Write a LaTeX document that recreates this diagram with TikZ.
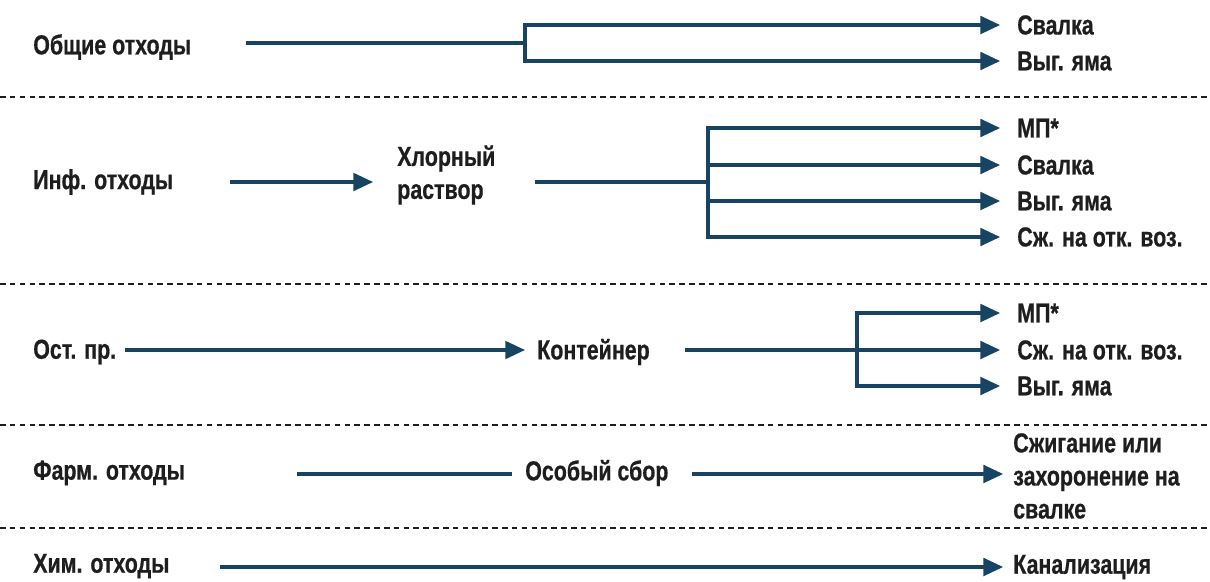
\documentclass[tikz,border=0pt]{standalone}
\usepackage{fontspec}
\setmainfont{Liberation Sans}[FakeStretch=0.78, FakeBold=0.6]
\usetikzlibrary{arrows.meta, positioning}
\definecolor{flowblue}{RGB}{22, 68, 98}
\definecolor{labelgray}{RGB}{30, 30, 30}

\begin{document}
\begin{tikzpicture}[x=0.025cm, y=-0.025cm,
    lbl/.style={anchor=west, inner sep=0pt, align=left, text=labelgray,
        font=\bfseries\fontsize{19.5}{23.5}\selectfont},
    flow/.style={flowblue, line width=2.3pt},
    arr/.style={flow, -{Triangle[length=14pt, width=12.5pt]}},
    sepline/.style={labelgray, line width=0.8pt, dash pattern=on 4pt off 3pt}]
    \useasboundingbox (0,0) rectangle (1210,581);

    % separators
    \foreach \y in {97, 284, 425, 528}
        \draw[sepline] (0,\y) -- (1210,\y);

    % general waste
    \node[lbl] (ob) at (33,47) {Общие отходы};
    \coordinate (obS) at (246,43);
    \coordinate (obJ) at (525,43);
    \node[lbl] (ob1) at (1017,25) {Свалка};
    \node[lbl] (ob2) at (1017,61) {Выг. яма};
    \draw[flow] (obS) -- (obJ);
    \draw[arr, shorten >=12pt] (obJ) |- (ob1.west);
    \draw[arr, shorten >=12pt] (obJ) |- (ob2.west);

    % infectious waste
    \node[lbl] (inf) at (33,182) {Инф. отходы};
    \coordinate (infS) at (230,182);
    \node[lbl] (hl) at (397,175) {Хлорный\\раствор};
    \draw[arr, shorten >=17pt] (infS) -- (infS -| hl.west);
    \coordinate (hlS) at (535,182);
    \coordinate (hlJ) at (708,182);
    \node[lbl] (hl1) at (1017,128) {МП*};
    \node[lbl] (hl2) at (1017,165) {Свалка};
    \node[lbl] (hl3) at (1017,201) {Выг. яма};
    \node[lbl] (hl4) at (1017,237) {Сж. на отк. воз.};
    \draw[flow] (hlS) -- (hlJ);
    \foreach \t in {hl1, hl2, hl3, hl4}
        \draw[arr, shorten >=12pt] (hlJ) |- (\t.west);

    % sharps
    \node[lbl] (ost) at (33,352) {Ост. пр.};
    \coordinate (ostS) at (125,350);
    \node[lbl] (kont) at (537,352) {Контейнер};
    \draw[arr, shorten >=8.5pt] (ostS) -- (ostS -| kont.west);
    \coordinate (kontS) at (685,350);
    \coordinate (kontJ) at (857,350);
    \node[lbl] (k1) at (1017,313) {МП*};
    \node[lbl] (k2) at (1017,350) {Сж. на отк. воз.};
    \node[lbl] (k3) at (1017,386) {Выг. яма};
    \draw[arr, shorten >=12pt] (kontS) -- (k2.west);
    \draw[arr, shorten >=12pt] (kontJ) |- (k1.west);
    \draw[arr, shorten >=12pt] (kontJ) |- (k3.west);

    % pharmaceutical waste
    \node[lbl] (farm) at (33,473) {Фарм. отходы};
    \coordinate (farmS) at (297,474);
    \node[lbl] (osob) at (525,473) {Особый сбор};
    \draw[flow, shorten >=9pt] (farmS) -- (farmS -| osob.west);
    \coordinate (osobS) at (692,474);
    \node[lbl] (szh) at (1013,476) {Сжигание или\\захоронение на\\свалке};
    \draw[arr, shorten >=7pt] (osobS) -- (osobS -| szh.west);

    % chemical waste
    \node[lbl] (him) at (33,566) {Хим. отходы};
    \coordinate (himS) at (220,567);
    \node[lbl] (kan) at (1013,567) {Канализация};
    \draw[arr, shorten >=7pt] (himS) -- (kan.west);
\end{tikzpicture}
\end{document}
